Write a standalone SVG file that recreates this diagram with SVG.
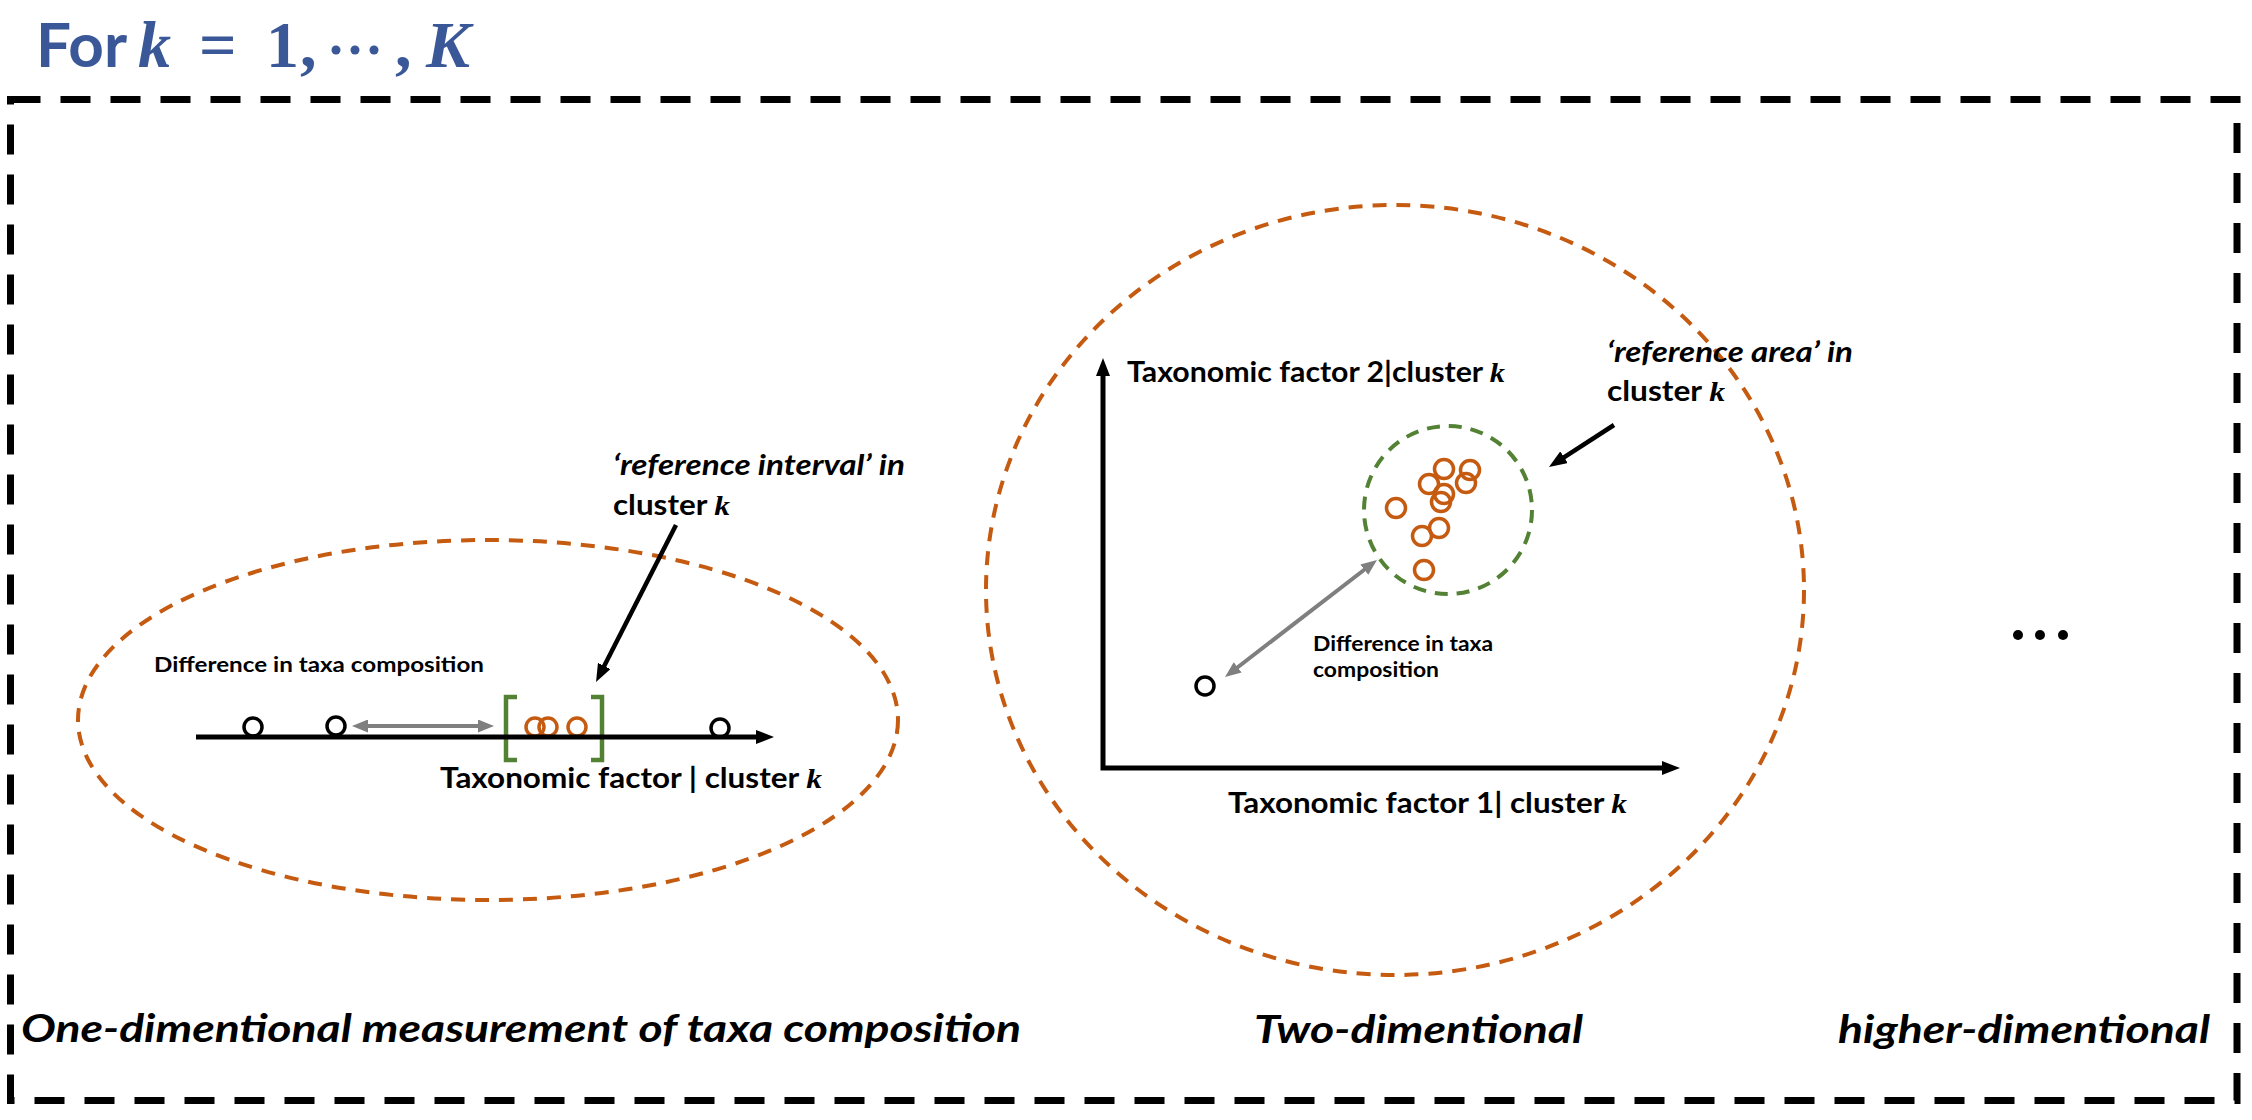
<svg xmlns="http://www.w3.org/2000/svg" width="2252" height="1120" viewBox="0 0 2252 1120">
<style>
.lbl{font-family:Lato,"Open Sans","Liberation Sans",sans-serif;font-weight:bold;fill:#000}
.it{font-style:italic}
.m{font-family:"Liberation Serif","DejaVu Serif",serif;font-style:italic;font-weight:bold}
.orc{fill:none;stroke:#C55A11;stroke-width:3.5}
.blc{fill:none;stroke:#000;stroke-width:3.5}
</style>
<defs>
<marker id="mb" viewBox="0 0 18 14" refX="2" refY="7" markerWidth="18" markerHeight="14" markerUnits="userSpaceOnUse" orient="auto-start-reverse"><path d="M0,0 L18,7 L0,14 z" fill="#000"/></marker>
<marker id="mg" viewBox="0 0 16 13" refX="2" refY="6.5" markerWidth="16" markerHeight="13" markerUnits="userSpaceOnUse" orient="auto-start-reverse"><path d="M0,0 L16,6.5 L0,13 z" fill="#7F7F7F"/></marker>
</defs>
<rect width="2252" height="1120" fill="#fff"/>

<g id="title">
<text x="36" y="67" font-size="62" fill="#3A5897"><tspan class="lbl" style="fill:#3A5897">For</tspan><tspan class="m" x="138" font-size="66">k</tspan><tspan x="199" font-family="Liberation Serif" font-weight="bold" font-size="66">=</tspan><tspan x="266" font-family="Liberation Serif" font-weight="bold" font-size="66">1</tspan><tspan x="300" font-family="Liberation Serif" font-weight="bold" font-size="66">,</tspan><tspan x="395" font-family="Liberation Serif" font-weight="bold" font-size="66">,</tspan><tspan class="m" x="426" font-size="66">K</tspan></text>
<circle cx="336" cy="50" r="4.5" fill="#3A5897"/><circle cx="355" cy="50" r="4.5" fill="#3A5897"/><circle cx="374" cy="50" r="4.5" fill="#3A5897"/>
</g>

<g id="frame">
<rect x="10.5" y="99.5" width="2226.5" height="1001" fill="none" stroke="#000" stroke-width="7" stroke-dasharray="30 20"/>
</g>

<g id="one-dim">
<ellipse cx="488" cy="720" rx="410" ry="180" fill="none" stroke="#C55A11" stroke-width="4" stroke-dasharray="14 10"/>
<text class="lbl" x="154" y="672" font-size="20" textLength="330" lengthAdjust="spacingAndGlyphs">Difference in taxa composition</text>
<path d="M517,697 L506,697 L506,760 L517,760" fill="none" stroke="#548235" stroke-width="4.5"/>
<path d="M591,697 L602,697 L602,760 L591,760" fill="none" stroke="#548235" stroke-width="4.5"/>
<circle class="blc" cx="253" cy="727" r="9"/>
<circle class="blc" cx="336" cy="726" r="9"/>
<circle class="blc" cx="720" cy="728" r="9"/>
<circle class="orc" cx="535" cy="727" r="9"/>
<circle class="orc" cx="548" cy="727" r="9"/>
<circle class="orc" cx="577" cy="727" r="9"/>
<text class="lbl" x="440" y="788" font-size="28" textLength="382" lengthAdjust="spacingAndGlyphs">Taxonomic factor | cluster <tspan class="m">k</tspan></text>
<text class="lbl it" x="613" y="475" font-size="28" textLength="292" lengthAdjust="spacingAndGlyphs">‘reference interval’ in</text>
<text class="lbl" x="613" y="515" font-size="28" textLength="117" lengthAdjust="spacingAndGlyphs">cluster <tspan class="m">k</tspan></text>
</g>

<g id="two-dim">
<ellipse cx="1395" cy="590" rx="409" ry="385" fill="none" stroke="#C55A11" stroke-width="4" stroke-dasharray="14 10"/>
<circle cx="1448" cy="510" r="84" fill="none" stroke="#548235" stroke-width="4" stroke-dasharray="13 9"/>
<circle class="orc" cx="1444" cy="469" r="9.5"/>
<circle class="orc" cx="1470" cy="470" r="9.5"/>
<circle class="orc" cx="1429" cy="484" r="9.5"/>
<circle class="orc" cx="1466" cy="483" r="9.5"/>
<circle class="orc" cx="1444" cy="494" r="9.5"/>
<circle class="orc" cx="1441" cy="502" r="9.5"/>
<circle class="orc" cx="1396" cy="508" r="9.5"/>
<circle class="orc" cx="1439" cy="528" r="9.5"/>
<circle class="orc" cx="1422" cy="536" r="9.5"/>
<circle class="orc" cx="1424" cy="570" r="9.5"/>
<circle class="blc" cx="1205" cy="686" r="9"/>
<text class="lbl" x="1127" y="382" font-size="28" textLength="378" lengthAdjust="spacingAndGlyphs">Taxonomic factor 2|cluster <tspan class="m">k</tspan></text>
<text class="lbl" x="1228" y="813" font-size="28" textLength="399" lengthAdjust="spacingAndGlyphs">Taxonomic factor 1| cluster <tspan class="m">k</tspan></text>
<text class="lbl it" x="1607" y="362" font-size="28" textLength="246" lengthAdjust="spacingAndGlyphs">‘reference area’ in</text>
<text class="lbl" x="1607" y="401" font-size="28" textLength="118" lengthAdjust="spacingAndGlyphs">cluster <tspan class="m">k</tspan></text>
<text class="lbl" x="1313" y="651" font-size="20" textLength="180" lengthAdjust="spacingAndGlyphs">Difference in taxa</text>
<text class="lbl" x="1313" y="677" font-size="20" textLength="126" lengthAdjust="spacingAndGlyphs">composition</text>
</g>

<g id="higher-dim">
<circle cx="2018" cy="635" r="5"/><circle cx="2040" cy="635" r="5"/><circle cx="2063" cy="635" r="5"/>
</g>

<g id="captions">
<text class="lbl it" x="21" y="1042" font-size="39" textLength="1000" lengthAdjust="spacingAndGlyphs">One-dimentional measurement of taxa composition</text>
<text class="lbl it" x="1254" y="1043" font-size="39" textLength="329" lengthAdjust="spacingAndGlyphs">Two-dimentional</text>
<text class="lbl it" x="1838" y="1043" font-size="39" textLength="372" lengthAdjust="spacingAndGlyphs">higher-dimentional</text>
</g>

<g id="connectors">
<line x1="196" y1="737" x2="758" y2="737" stroke="#000" stroke-width="5" marker-end="url(#mb)"/>
<line x1="366" y1="726" x2="480" y2="726" stroke="#7F7F7F" stroke-width="4" marker-start="url(#mg)" marker-end="url(#mg)"/>
<line x1="676" y1="525" x2="603.3" y2="667.7" stroke="#000" stroke-width="4.5" marker-end="url(#mb)"/>
<path d="M1103,374 L1103,768 L1664,768" fill="none" stroke="#000" stroke-width="5" marker-start="url(#mb)" marker-end="url(#mb)"/>
<line x1="1614" y1="425" x2="1562.4" y2="458.3" stroke="#000" stroke-width="4.5" marker-end="url(#mb)"/>
<line x1="1236.1" y1="668.5" x2="1365.9" y2="568.5" stroke="#7F7F7F" stroke-width="4" marker-start="url(#mg)" marker-end="url(#mg)"/>
</g>
</svg>
